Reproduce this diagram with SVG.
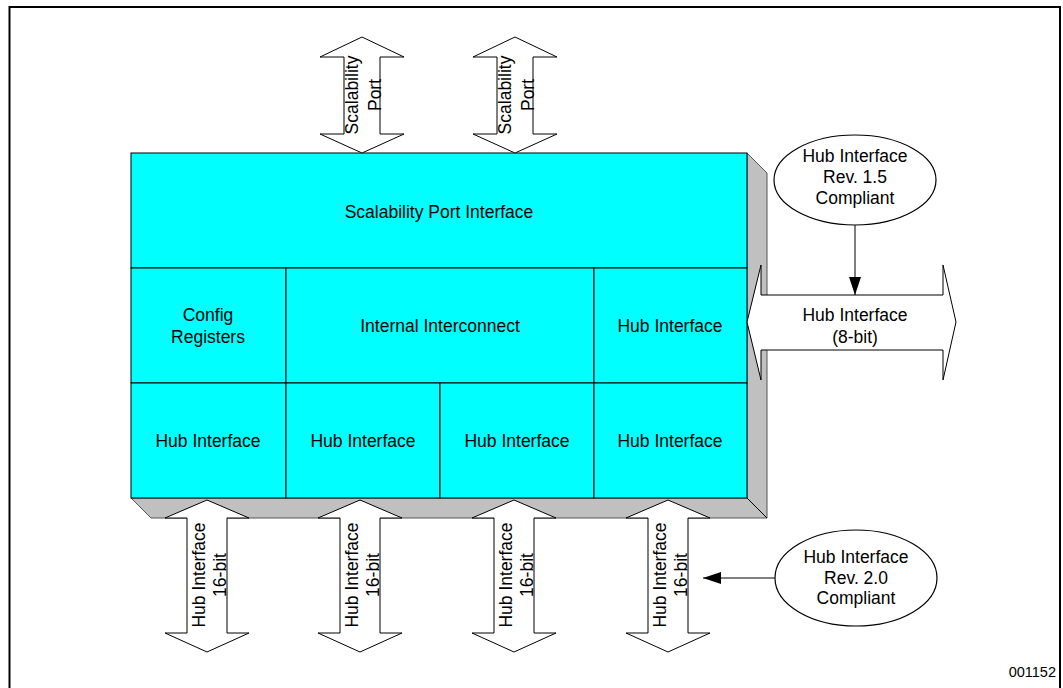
<svg xmlns="http://www.w3.org/2000/svg" width="1063" height="688" viewBox="0 0 1063 688">
<defs>
<style>
text{font-family:"Liberation Sans",Arial,sans-serif;font-size:17.5px;fill:#000;text-anchor:middle}
.cell{fill:#00FFFF;stroke:#000;stroke-width:1}
.arr{fill:#fff;stroke:#000;stroke-width:1}
.ell{fill:#fff;stroke:#000;stroke-width:1.2}
.conn{stroke:#000;stroke-width:1;fill:none}
.small{font-size:14.5px}
</style>
<marker id="ah" viewBox="0 0 18 12" refX="18" refY="6" markerWidth="18" markerHeight="12" markerUnits="userSpaceOnUse" orient="auto">
<path d="M0,0 L18,6 L0,12 Z" fill="#000"/>
</marker>
</defs>
<rect width="1063" height="688" fill="#fff"/>
<rect x="9.5" y="7" width="1050.5" height="690" fill="none" stroke="#000" stroke-width="2"/>

<g id="shadow">
<polygon points="747,153 767,173 767,518 151,518 131,498 747,498" fill="#C0C0C0" stroke="#555" stroke-width="1"/>
<line x1="747" y1="498" x2="767" y2="518" stroke="#000" stroke-width="1"/>
</g>

<g id="scalability-port-interface">
<rect class="cell" x="131" y="153" width="616" height="115"/>
<text x="439" y="218">Scalability Port Interface</text>
</g>
<g id="config-registers">
<rect class="cell" x="131" y="268" width="155" height="115"/>
<text x="208" y="321">Config</text>
<text x="208" y="343">Registers</text>
</g>
<g id="internal-interconnect">
<rect class="cell" x="286" y="268" width="308" height="115"/>
<text x="440" y="332">Internal Interconnect</text>
</g>
<g id="hub-interface-r2">
<rect class="cell" x="594" y="268" width="153" height="115"/>
<text x="670" y="332">Hub Interface</text>
</g>
<g id="hub-interface-1">
<rect class="cell" x="131" y="383" width="155" height="115"/>
<text x="208" y="447">Hub Interface</text>
</g>
<g id="hub-interface-2">
<rect class="cell" x="286" y="383" width="154" height="115"/>
<text x="363" y="447">Hub Interface</text>
</g>
<g id="hub-interface-3">
<rect class="cell" x="440" y="383" width="154" height="115"/>
<text x="517" y="447">Hub Interface</text>
</g>
<g id="hub-interface-4">
<rect class="cell" x="594" y="383" width="153" height="115"/>
<text x="670" y="447">Hub Interface</text>
</g>

<g id="scalability-port-1">
<polygon class="arr" points="362,37 404,57 380,57 380,134 404,134 362,153 320,134 344,134 344,57 320,57"/>
<g transform="translate(362,95) rotate(-90)">
<text x="0" y="-4">Scalability</text>
<text x="0" y="19">Port</text>
</g>
</g>
<g id="scalability-port-2">
<polygon class="arr" points="515,37 557,57 533,57 533,134 557,134 515,153 473,134 497,134 497,57 473,57"/>
<g transform="translate(515,95) rotate(-90)">
<text x="0" y="-4">Scalability</text>
<text x="0" y="19">Port</text>
</g>
</g>

<g id="hub-8bit">
<polygon class="arr" points="747,322 761,265 761,295 943,295 943,265 956,322 943,380 943,350 761,350 761,380"/>
<text x="855" y="321">Hub Interface</text>
<text x="855" y="343">(8-bit)</text>
</g>

<g id="hub-16bit-1">
<polygon class="arr" points="207,500 249,518 227,518 227,633 249,633 207,652 165,633 187,633 187,518 165,518"/>
<g transform="translate(207,575) rotate(-90)"><text x="0" y="-2">Hub Interface</text><text x="0" y="19">16-bit</text></g>
</g>
<g id="hub-16bit-2">
<polygon class="arr" points="360,500 402,518 380,518 380,633 402,633 360,652 318,633 340,633 340,518 318,518"/>
<g transform="translate(360,575) rotate(-90)"><text x="0" y="-2">Hub Interface</text><text x="0" y="19">16-bit</text></g>
</g>
<g id="hub-16bit-3">
<polygon class="arr" points="514,500 556,518 534,518 534,633 556,633 514,652 472,633 494,633 494,518 472,518"/>
<g transform="translate(514,575) rotate(-90)"><text x="0" y="-2">Hub Interface</text><text x="0" y="19">16-bit</text></g>
</g>
<g id="hub-16bit-4">
<polygon class="arr" points="668,500 710,518 688,518 688,633 710,633 668,652 626,633 648,633 648,518 626,518"/>
<g transform="translate(668,575) rotate(-90)"><text x="0" y="-2">Hub Interface</text><text x="0" y="19">16-bit</text></g>
</g>

<g id="rev15">
<ellipse class="ell" cx="855" cy="180" rx="81" ry="45"/>
<text x="855" y="162">Hub Interface</text>
<text x="855" y="183">Rev. 1.5</text>
<text x="855" y="204">Compliant</text>
</g>
<g id="rev20">
<ellipse class="ell" cx="856" cy="578" rx="81" ry="48"/>
<text x="856" y="563">Hub Interface</text>
<text x="856" y="584">Rev. 2.0</text>
<text x="856" y="604">Compliant</text>
</g>

<g id="connectors">
<line class="conn" x1="855" y1="225" x2="855" y2="295" marker-end="url(#ah)"/>
<line class="conn" x1="775" y1="578" x2="703" y2="578" marker-end="url(#ah)"/>
</g>

<text class="small" x="1056" y="677" style="text-anchor:end">001152</text>
</svg>
